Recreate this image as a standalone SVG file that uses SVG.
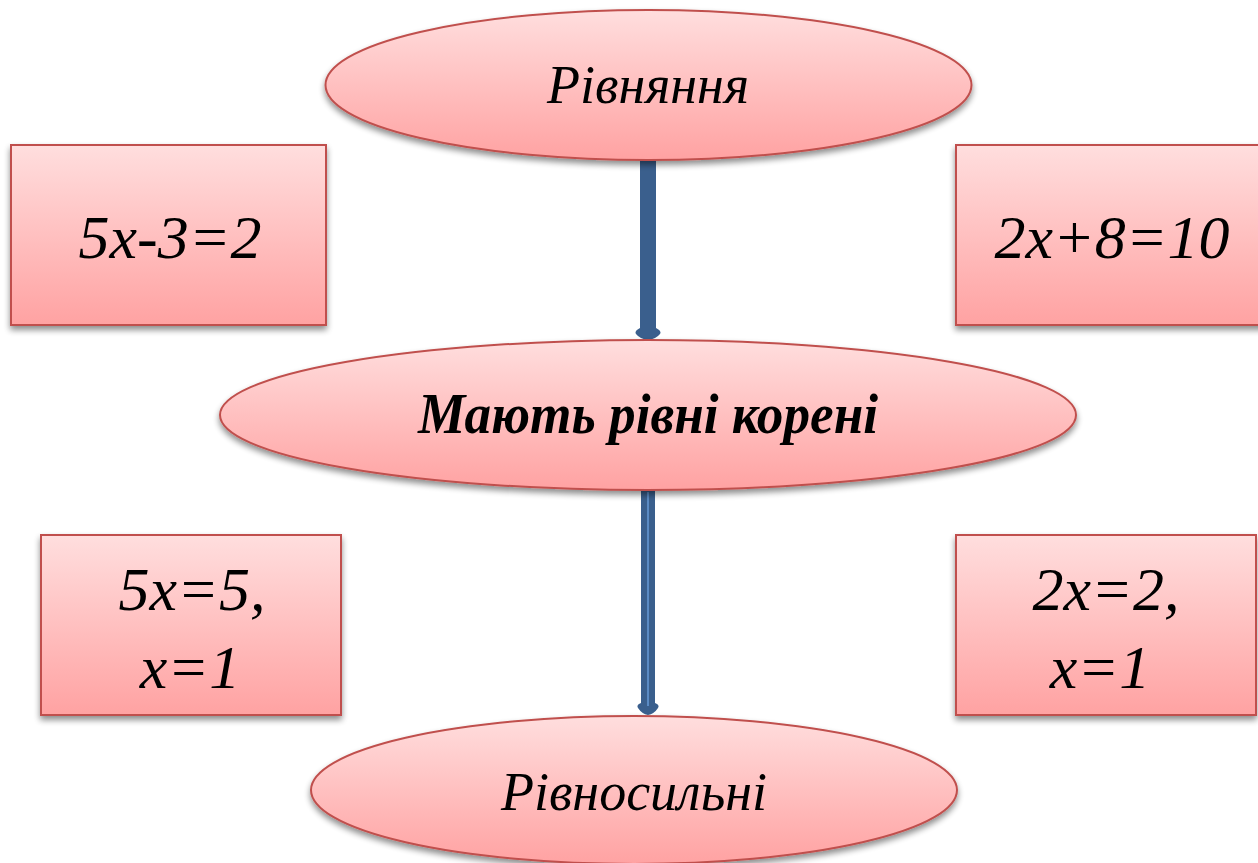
<svg xmlns="http://www.w3.org/2000/svg" width="1258" height="863" viewBox="0 0 1258 863">
<defs>
<linearGradient id="pink" x1="0" y1="0" x2="0" y2="1">
<stop offset="0" stop-color="#ffdede"/>
<stop offset="0.5" stop-color="#ffc0c0"/>
<stop offset="1" stop-color="#ffa2a2"/>
</linearGradient>
<filter id="sh" x="-10%" y="-10%" width="120%" height="130%">
<feGaussianBlur in="SourceAlpha" stdDeviation="3"/>
<feOffset dx="0" dy="4" result="b"/>
<feComponentTransfer><feFuncA type="linear" slope="0.45"/></feComponentTransfer>
<feMerge><feMergeNode/><feMergeNode in="SourceGraphic"/></feMerge>
</filter>
</defs>
<style>
.shape{fill:url(#pink);stroke:#c0504d;stroke-width:2;filter:url(#sh)}
.arrow{fill:#3a5f8d}
.hl{stroke:#5b8bc4;stroke-width:2;fill:none}
</style>
<rect width="1258" height="863" fill="#ffffff"/>
<g id="connectors">
<path class="arrow" d="M640,158 L656,158 L656,328 Q662,331 660,334 Q656,339 648,340 Q640,339 636,334 Q634,331 640,328 Z"/>
<path class="arrow" d="M641,488 L655,488 L655,703 Q660,705 658,708 Q654,714 648,715 Q642,714 638,708 Q636,705 641,703 Z"/>
<line class="hl" x1="648" y1="492" x2="648" y2="706"/>
</g>
<g font-family="Liberation Serif" font-style="italic" fill="#000000" text-anchor="middle">
<g id="node-rivniannia">
<ellipse class="shape" cx="648.5" cy="85" rx="323" ry="75"/>
<text x="648" y="103" font-size="54">Рівняння</text>
</g>
<g id="node-eq1">
<rect class="shape" x="11" y="145" width="315" height="180"/>
<text x="170" y="258" font-size="62">5x-3=2</text>
</g>
<g id="node-eq2">
<rect class="shape" x="956" y="145" width="310" height="180"/>
<text x="1112" y="258" font-size="62">2x+8=10</text>
</g>
<g id="node-koreni">
<ellipse class="shape" cx="648" cy="415" rx="428" ry="75"/>
<text x="648" y="433" font-size="58" font-weight="bold" textLength="460" lengthAdjust="spacingAndGlyphs">Мають рівні корені</text>
</g>
<g id="node-sol1">
<rect class="shape" x="41" y="535" width="300" height="180"/>
<text x="192" y="610" font-size="62">5x=5,</text>
<text x="190" y="688" font-size="62">x=1</text>
</g>
<g id="node-sol2">
<rect class="shape" x="956" y="535" width="300" height="180"/>
<text x="1106" y="610" font-size="62">2x=2,</text>
<text x="1100" y="688" font-size="62">x=1</text>
</g>
<g id="node-rivnosylni">
<ellipse class="shape" cx="634" cy="790" rx="323" ry="74"/>
<text x="634" y="810" font-size="54">Рівносильні</text>
</g>
</g>
</svg>
